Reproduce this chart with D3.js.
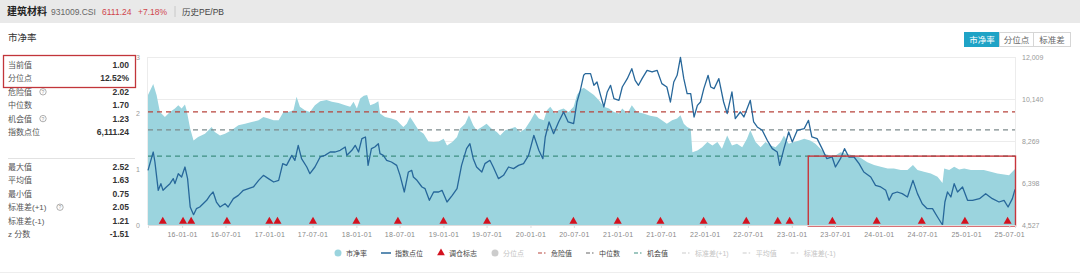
<!DOCTYPE html>
<html>
<head>
<meta charset="utf-8">
<script src="https://cdn.jsdelivr.net/npm/d3@7/dist/d3.min.js"></script>
<style>
  body { margin: 0; background: #fff; }
  svg { display: block; font-family: "Liberation Sans", "Noto Sans CJK SC", sans-serif; }
</style>
</head>
<body>
<svg id="chart" width="1080" height="276"></svg>
<script>
// ---- data ----
const pbDates = ['2015-08-11','2015-09-02','2015-09-16','2015-09-30','2015-10-21','2015-11-11','2015-12-02','2015-12-16','2015-12-30',
  '2016-01-13','2016-01-20','2016-02-04','2016-02-18','2016-03-08','2016-04-06','2016-05-04','2016-05-17','2016-06-08','2016-06-29',
  '2016-07-26','2016-08-24','2016-09-21','2016-10-19','2016-11-17','2016-12-07','2016-12-28',
  '2017-01-19','2017-02-09','2017-03-01','2017-03-21','2017-04-12','2017-04-25','2017-05-09','2017-05-30','2017-06-20','2017-07-11',
  '2017-08-02','2017-08-29','2017-09-20','2017-10-18','2017-11-15','2017-12-06','2017-12-20',
  '2018-01-03','2018-01-17','2018-02-01','2018-02-15','2018-02-28','2018-03-19','2018-04-03','2018-04-10','2018-05-01','2018-05-28',
  '2018-06-19','2018-07-03','2018-07-17','2018-07-31','2018-08-14','2018-08-28','2018-09-19','2018-10-10','2018-10-30','2018-11-21','2018-12-12',
  '2019-01-02','2019-01-16','2019-02-07','2019-02-27','2019-03-11','2019-04-02','2019-04-18','2019-05-06','2019-05-20','2019-06-11',
  '2019-07-01','2019-07-22','2019-08-13','2019-08-27','2019-09-17','2019-10-08','2019-10-29','2019-11-19','2019-12-10',
  '2020-01-02','2020-01-19','2020-02-05','2020-02-26','2020-03-10','2020-03-24','2020-04-14','2020-04-28','2020-05-19','2020-06-09',
  '2020-06-30','2020-07-14','2020-07-28','2020-08-11','2020-08-25','2020-09-23','2020-10-13','2020-11-04','2020-11-25','2020-12-16',
  '2021-01-06','2021-01-20','2021-02-10','2021-03-01','2021-03-22','2021-04-19','2021-05-17','2021-06-15','2021-07-05','2021-07-26',
  '2021-08-17','2021-09-07','2021-09-21','2021-10-05','2021-10-19','2021-11-03','2021-11-10','2021-12-01','2021-12-21',
  '2022-01-12','2022-02-02','2022-02-23','2022-03-14','2022-04-05','2022-04-25','2022-05-16','2022-06-07','2022-06-27','2022-07-11',
  '2022-08-02','2022-08-23','2022-09-13','2022-10-04','2022-10-25','2022-11-15','2022-11-29','2022-12-19',
  '2023-01-10','2023-02-01','2023-02-22','2023-03-19','2023-04-10','2023-05-01','2023-05-21','2023-06-12','2023-07-03','2023-07-24',
  '2023-08-21','2023-09-19','2023-10-16','2023-11-14','2023-12-12',
  '2024-01-09','2024-02-07','2024-03-04','2024-04-02','2024-04-30','2024-05-23','2024-06-11','2024-07-08','2024-08-06','2024-09-03',
  '2024-09-24','2024-10-01','2024-10-22','2024-11-12','2024-12-03','2024-12-24',
  '2025-01-21','2025-02-19','2025-03-16','2025-04-14','2025-05-12','2025-06-09','2025-06-30','2025-07-25'];
const pbValues = [2.32,2.52,2.32,2.02,1.93,2.02,2.08,2.14,2.08,
  2.15,2.05,1.72,1.51,1.57,1.63,1.75,1.66,1.60,1.63,
  1.69,1.78,1.81,1.84,1.87,1.93,1.90,
  1.87,1.87,2.02,2.02,2.05,2.29,2.11,2.05,2.02,2.14,
  2.21,2.23,2.20,2.18,2.14,2.11,2.20,
  2.08,2.26,2.31,2.32,2.14,2.17,2.21,1.99,1.93,1.90,
  1.87,1.81,1.75,1.81,1.93,1.84,1.69,1.63,1.49,1.48,1.49,
  1.54,1.42,1.48,1.57,1.72,1.81,1.96,1.78,1.69,1.75,
  1.81,1.72,1.66,1.60,1.69,1.72,1.75,1.66,1.72,
  1.87,2.00,1.90,1.87,2.05,2.11,1.99,2.05,2.08,2.02,
  2.11,2.32,2.41,2.45,2.41,2.32,2.23,2.11,2.08,2.02,
  1.99,2.08,1.99,2.14,2.02,1.99,1.95,1.93,1.87,1.81,
  1.87,1.90,1.96,1.81,1.75,1.72,1.30,1.33,1.39,
  1.48,1.42,1.48,1.36,1.60,1.42,1.45,1.39,1.54,1.69,
  1.48,1.39,1.48,1.42,1.39,1.48,1.60,1.45,
  1.48,1.51,1.54,1.51,1.45,1.36,1.27,1.24,1.24,1.30,
  1.27,1.24,1.20,1.12,1.07,
  1.04,1.01,1.01,0.98,0.98,1.07,0.98,0.95,0.92,0.86,
  0.75,1.01,0.98,1.04,0.99,1.01,
  0.98,0.98,0.98,0.95,0.92,0.90,0.89,1.00];

const indexDates = ['2015-08-11','2015-09-02','2015-09-09','2015-09-23','2015-10-04','2015-10-13','2015-10-27','2015-11-11','2015-11-25',
  '2015-12-02','2015-12-16','2015-12-30','2016-01-13','2016-01-24','2016-02-04','2016-02-18','2016-03-01','2016-03-15','2016-03-29',
  '2016-04-13','2016-04-27','2016-05-10','2016-05-24','2016-06-08','2016-06-29','2016-07-12','2016-08-03','2016-08-24','2016-09-14',
  '2016-10-05','2016-10-26','2016-11-17','2016-12-07','2016-12-28',
  '2017-01-19','2017-02-09','2017-02-26','2017-03-14','2017-04-05','2017-04-18','2017-05-02','2017-05-16','2017-06-07','2017-06-20',
  '2017-07-11','2017-08-02','2017-08-22','2017-09-13','2017-10-04','2017-10-25','2017-11-15','2017-11-22','2017-12-13','2017-12-27',
  '2018-01-10','2018-01-24','2018-02-08','2018-02-19','2018-03-05','2018-03-19','2018-04-03','2018-04-10','2018-04-24','2018-05-08',
  '2018-05-28','2018-06-19','2018-07-03','2018-07-21','2018-08-07','2018-08-21','2018-08-28','2018-09-12','2018-10-03','2018-10-16',
  '2018-11-03','2018-11-21','2018-12-12','2018-12-26',
  '2019-01-16','2019-02-07','2019-02-27','2019-03-18','2019-04-08','2019-04-22','2019-05-06','2019-05-20','2019-06-11','2019-06-24',
  '2019-07-15','2019-07-29','2019-08-20','2019-09-10','2019-10-01','2019-10-22','2019-11-12','2019-12-03','2019-12-24',
  '2020-01-15','2020-02-05','2020-02-22','2020-03-03','2020-03-19','2020-04-07','2020-04-28','2020-05-19','2020-06-07','2020-06-30',
  '2020-07-14','2020-07-28','2020-08-11','2020-08-18','2020-09-09','2020-09-23','2020-10-06','2020-10-21','2020-11-04','2020-11-18',
  '2020-12-02','2020-12-16',
  '2021-01-06','2021-01-20','2021-02-10','2021-03-01','2021-03-15','2021-03-29','2021-04-13','2021-05-04','2021-05-25','2021-06-15',
  '2021-07-05','2021-07-26','2021-08-10','2021-08-24','2021-09-07','2021-09-21','2021-10-05','2021-10-19','2021-11-03','2021-11-17',
  '2021-12-01','2021-12-14','2021-12-28',
  '2022-01-15','2022-01-26','2022-02-09','2022-03-01','2022-03-21','2022-04-05','2022-04-25','2022-05-09','2022-05-30','2022-06-14',
  '2022-07-11','2022-07-25','2022-08-09','2022-08-30','2022-09-20','2022-10-11','2022-11-01','2022-11-11','2022-11-29','2022-12-19',
  '2023-01-03','2023-01-24','2023-02-22','2023-03-12','2023-03-26','2023-04-17','2023-05-08','2023-05-28','2023-06-19','2023-07-03',
  '2023-07-24','2023-08-10','2023-08-28','2023-09-19','2023-10-10','2023-10-30','2023-11-28','2023-12-18',
  '2024-01-09','2024-01-30','2024-02-13','2024-02-27','2024-03-18','2024-04-08','2024-04-30','2024-05-23','2024-06-11','2024-07-01',
  '2024-07-22','2024-08-13','2024-09-03','2024-09-24','2024-10-04','2024-10-15','2024-10-29','2024-11-12','2024-11-26','2024-12-17',
  '2025-01-07','2025-01-28','2025-02-26','2025-03-24','2025-04-21','2025-05-19','2025-06-09','2025-06-26','2025-07-14','2025-07-25'];
const indexValues = [6962,7778,7333,6071,6368,6071,6220,6368,6591,
  6368,6813,6665,7110,6591,5329,4987,5254,5329,5477,
  5626,5848,5997,5551,5329,5477,5329,5700,5848,6071,
  6145,6220,6516,6739,6591,
  6442,6516,7259,7184,7630,7407,8075,7481,7110,6813,
  7110,7556,7630,7778,7778,7853,8001,7630,7853,8075,
  7778,8372,8447,7184,7927,8001,8149,7704,7630,7407,
  7333,7184,6739,5997,6888,6962,6665,6516,6220,6145,
  5626,5997,5997,6071,
  5551,5848,6145,7184,7927,8149,7481,7110,6888,7259,
  7407,7110,6591,6739,7110,7036,7184,7259,7630,
  8521,7853,7481,8447,9115,8595,9115,9560,9115,9040,
  10005,10525,11193,11267,11267,10748,10896,10302,9783,10451,
  10748,10154,
  10080,10674,11045,11490,10971,10748,11045,11416,11342,11416,
  10822,10674,10005,10896,11193,11990,11045,10377,10377,9337,
  9857,10005,10599,
  11193,10674,10599,11045,10005,9486,10451,9263,9560,9337,
  10080,9115,8892,8744,8298,7927,7778,7184,7927,8669,
  8224,8744,8818,9189,8447,8372,7927,7481,7556,7110,
  7481,7927,7556,7556,7259,6888,6665,6294,
  6220,6071,5626,5923,5997,5923,5774,6516,5923,5477,
  5254,5254,4883,4527,5551,5997,5774,6368,5997,6220,
  5626,5626,5700,5923,5700,5551,5626,5329,5700,6111.24];

// 调仓标志
const tradeDates = ['2015-10-12','2016-01-05','2016-02-08','2016-07-07','2017-01-01','2017-02-04','2017-07-03','2018-01-01',
  '2018-06-24','2019-01-01','2019-07-03','2020-06-29','2021-01-01','2021-06-29','2021-12-27','2022-06-24','2022-11-03',
  '2022-12-23','2023-06-20','2023-12-23','2024-06-29','2024-12-27','2025-06-24'];

const xTicks = ['2016-01-01','2016-07-01','2017-01-01','2017-07-01','2018-01-01','2018-07-01','2019-01-01','2019-07-01',
  '2020-01-01','2020-07-01','2021-01-01','2021-07-01','2022-01-01','2022-07-01','2023-01-01','2023-07-01','2024-01-01',
  '2024-07-01','2025-01-01','2025-07-01'];
const leftTicks = [0, 1, 2, 3];
const rightTicks = [4527, 6398, 8269, 10140, 12009];

const topStatLabels = ['当前值', '分位点', '危险值', '中位数', '机会值', '指数点位'];
const topStatValues = ['1.00', '12.52%', '2.02', '1.70', '1.23', '6,111.24'];
const bottomStatLabels = ['最大值', '平均值', '最小值', '标准差(+1)', '标准差(-1)', 'z 分数'];
const bottomStatValues = ['2.52', '1.63', '0.75', '2.05', '1.21', '-1.51'];
const helpIcons = ['危险值', '机会值', '标准差(+1)'];

const dangerValue = 2.02, medianValue = 1.70, chanceValue = 1.23;
const highlightStart = '2023-03-11';

const buttons = ['市净率', '分位点', '标准差'];

// ---- drawing ----
const svg = d3.select('#chart');
const parse = d3.timeParse('%Y-%m-%d');
const plotLeft = 148, plotRight = 1015, plotTop = 57, plotBottom = 225;

const pb = pbDates.map((d, i) => ({ date: parse(d), v: pbValues[i] }));
const idx = indexDates.map((d, i) => ({ date: parse(d), v: indexValues[i] }));

const x = d3.scaleTime().domain([pb[0].date, pb[pb.length - 1].date]).range([plotLeft, plotRight]);
const yL = d3.scaleLinear().domain([0, 3]).range([plotBottom, plotTop]);
const yR = d3.scaleLinear().domain([rightTicks[0], rightTicks[rightTicks.length - 1]]).range([plotBottom, plotTop]);

// header bar
svg.append('rect').attr('x', 0).attr('y', 0).attr('width', 1080).attr('height', 23).attr('fill', '#e9e9e9');
svg.append('text').attr('x', 7).attr('y', 15).attr('font-size', 10).attr('font-weight', 'bold').attr('fill', '#222').text('建筑材料');
svg.append('text').attr('x', 51).attr('y', 15).attr('font-size', 8.5).attr('fill', '#666').text('931009.CSI');
svg.append('text').attr('x', 102).attr('y', 15).attr('font-size', 8.5).attr('fill', '#d0454c').text('6111.24');
svg.append('text').attr('x', 138).attr('y', 15).attr('font-size', 8.5).attr('fill', '#d0454c').text('+7.18%');
svg.append('line').attr('x1', 175).attr('x2', 175).attr('y1', 6).attr('y2', 17).attr('stroke', '#c8c8c8');
svg.append('text').attr('x', 182).attr('y', 15).attr('font-size', 8.5).attr('fill', '#444').text('历史PE/PB');

svg.append('text').attr('x', 8).attr('y', 41).attr('font-size', 9.5).attr('fill', '#333').text('市净率');

// toggle buttons
const btnW = [35, 34, 37];
let bx = 964;
buttons.forEach((b, i) => {
    svg.append('rect').attr('x', bx + 0.5).attr('y', 32.5).attr('width', btnW[i]).attr('height', 14)
        .attr('fill', i === 0 ? '#1fa3c6' : '#fff').attr('stroke', i === 0 ? '#1fa3c6' : '#d6d6d6');
    svg.append('text').attr('x', bx + btnW[i] / 2 + 0.5).attr('y', 43).attr('text-anchor', 'middle')
        .attr('font-size', 8.5).attr('fill', i === 0 ? '#fff' : '#666').text(b);
    bx += btnW[i];
});

// stats panel
const statRow = (labels, values, y0) => {
    labels.forEach((l, i) => {
        const y = y0 + i * 13.4;
        svg.append('text').attr('x', 8).attr('y', y).attr('font-size', 8).attr('fill', '#555').text(l);
        svg.append('text').attr('x', 129).attr('y', y).attr('text-anchor', 'end').attr('font-size', 8.5)
            .attr('font-weight', 'bold').attr('fill', '#333').text(values[i]);
        if (helpIcons.includes(l)) {
            const ix = l.length > 3 ? 60 : 43;
            svg.append('circle').attr('cx', ix).attr('cy', y - 3).attr('r', 3.2).attr('fill', 'none').attr('stroke', '#999').attr('stroke-width', 0.8);
            svg.append('text').attr('x', ix).attr('y', y - 1).attr('text-anchor', 'middle').attr('font-size', 5).attr('fill', '#999').text('?');
        }
    });
};
statRow(topStatLabels, topStatValues, 68);
statRow(bottomStatLabels, bottomStatValues, 170);
svg.append('line').attr('x1', 8).attr('x2', 135).attr('y1', 158.5).attr('y2', 158.5).attr('stroke', '#e2e2e2');
svg.append('rect').attr('x', 3.5).attr('y', 55.5).attr('width', 132).attr('height', 32)
    .attr('fill', 'none').attr('stroke', '#c2353a').attr('stroke-width', 1.3);

// grid + frame
svg.append('g').selectAll('line').data(rightTicks).enter().append('line')
    .attr('x1', plotLeft).attr('x2', plotRight).attr('y1', d => Math.round(yR(d)) + 0.5).attr('y2', d => Math.round(yR(d)) + 0.5)
    .attr('stroke', '#ececec');
svg.append('line').attr('x1', plotRight + 0.5).attr('x2', plotRight + 0.5).attr('y1', plotTop).attr('y2', plotBottom).attr('stroke', '#ececec');
svg.append('line').attr('x1', plotLeft - 0.5).attr('x2', plotLeft - 0.5).attr('y1', plotTop).attr('y2', plotBottom).attr('stroke', '#ececec');

// PB area
const area = d3.area().x(d => x(d.date)).y0(yL(0)).y1(d => yL(d.v));
svg.append('path').datum(pb).attr('d', area).attr('fill', '#9bd4de');

// reference lines
const refs = [
    { v: dangerValue, color: '#b8443c' },
    { v: medianValue, color: '#7d8a8c' },
    { v: chanceValue, color: '#3f8f82' }
];
svg.append('g').selectAll('line').data(refs).enter().append('line')
    .attr('x1', plotLeft).attr('x2', plotRight).attr('y1', d => yL(d.v)).attr('y2', d => yL(d.v))
    .attr('stroke', d => d.color).attr('stroke-width', 1.2).attr('stroke-dasharray', '5,4');

// index line
const line = d3.line().x(d => x(d.date)).y(d => yR(d.v));
svg.append('path').datum(idx).attr('d', line).attr('fill', 'none').attr('stroke', '#27679a').attr('stroke-width', 1.3)
    .attr('stroke-linejoin', 'round');

// rebalance markers
const tri = d3.symbol().type(d3.symbolTriangle).size(28);
svg.append('g').selectAll('path').data(tradeDates).enter().append('path')
    .attr('d', tri).attr('transform', d => `translate(${x(parse(d))},${plotBottom - 3.5})`).attr('fill', '#d3121f');

// highlight box
const hx = x(parse(highlightStart));
svg.append('rect').attr('x', hx).attr('y', yL(chanceValue))
    .attr('width', plotRight - hx + 0.5).attr('height', yL(0) - yL(chanceValue) + 1)
    .attr('fill', 'none').attr('stroke', '#c8363c').attr('stroke-width', 1.4);

// axes
const xAxis = svg.append('g').attr('transform', `translate(0,${plotBottom})`)
    .call(d3.axisBottom(x).tickValues(xTicks.map(parse)).tickFormat(d3.timeFormat('%y-%m-%d')).tickSize(3).tickPadding(4));
xAxis.select('.domain').attr('stroke', '#ddd');
xAxis.selectAll('line').attr('stroke', '#ddd');
xAxis.selectAll('text').attr('font-size', 7).attr('fill', '#888').attr('font-family', 'Liberation Sans').attr('letter-spacing', 0.3);

const yAxisL = svg.append('g').attr('transform', `translate(${plotLeft},0)`)
    .call(d3.axisLeft(yL).tickValues(leftTicks).tickFormat(d3.format('d')).tickSize(0).tickPadding(8));
yAxisL.select('.domain').remove();
yAxisL.selectAll('text').attr('font-size', 7).attr('fill', '#999');

const yAxisR = svg.append('g').attr('transform', `translate(${plotRight},0)`)
    .call(d3.axisRight(yR).tickValues(rightTicks).tickFormat(d3.format(',')).tickSize(0).tickPadding(7));
yAxisR.select('.domain').remove();
yAxisR.selectAll('text').attr('font-size', 7).attr('fill', '#999');

// legend
const legendItems = [
    { label: '市净率', kind: 'circle', color: '#9bd4de', on: true },
    { label: '指数点位', kind: 'line', color: '#27679a', on: true },
    { label: '调仓标志', kind: 'tri', color: '#d3121f', on: true },
    { label: '分位点', kind: 'circle', color: '#ccc', on: false },
    { label: '危险值', kind: 'dash', color: '#b8443c', on: true },
    { label: '中位数', kind: 'dash', color: '#666', on: true },
    { label: '机会值', kind: 'dash', color: '#3f8f82', on: true },
    { label: '标准差(+1)', kind: 'dash', color: '#ccc', on: false },
    { label: '平均值', kind: 'dash', color: '#ccc', on: false },
    { label: '标准差(-1)', kind: 'dash', color: '#ccc', on: false }
];
let lx = 334;
const ly = 253;
legendItems.forEach(item => {
    const g = svg.append('g');
    if (item.kind === 'circle') {
        g.append('circle').attr('cx', lx + 4).attr('cy', ly).attr('r', 3.5).attr('fill', item.color);
    } else if (item.kind === 'line') {
        g.append('line').attr('x1', lx).attr('x2', lx + 10).attr('y1', ly).attr('y2', ly).attr('stroke', item.color).attr('stroke-width', 1.5);
    } else if (item.kind === 'tri') {
        g.append('path').attr('d', d3.symbol().type(d3.symbolTriangle).size(26)).attr('transform', `translate(${lx + 4},${ly})`).attr('fill', item.color);
    } else {
        g.append('line').attr('x1', lx).attr('x2', lx + 9).attr('y1', ly).attr('y2', ly).attr('stroke', item.color)
            .attr('stroke-width', 1.2).attr('stroke-dasharray', '4,2,1.5,2');
    }
    const sw = item.kind === 'line' ? 10 : (item.kind === 'dash' ? 9 : 8);
    const t = g.append('text').attr('x', lx + sw + 4).attr('y', ly + 2.5).attr('font-size', 7)
        .attr('fill', item.on ? '#444' : '#c4c4c4').text(item.label);
    lx += sw + 4 + t.node().getComputedTextLength() + 14;
});
svg.append('line').attr('x1', 0).attr('x2', 1080).attr('y1', 272.5).attr('y2', 272.5).attr('stroke', '#eee');
</script>
</body>
</html>
